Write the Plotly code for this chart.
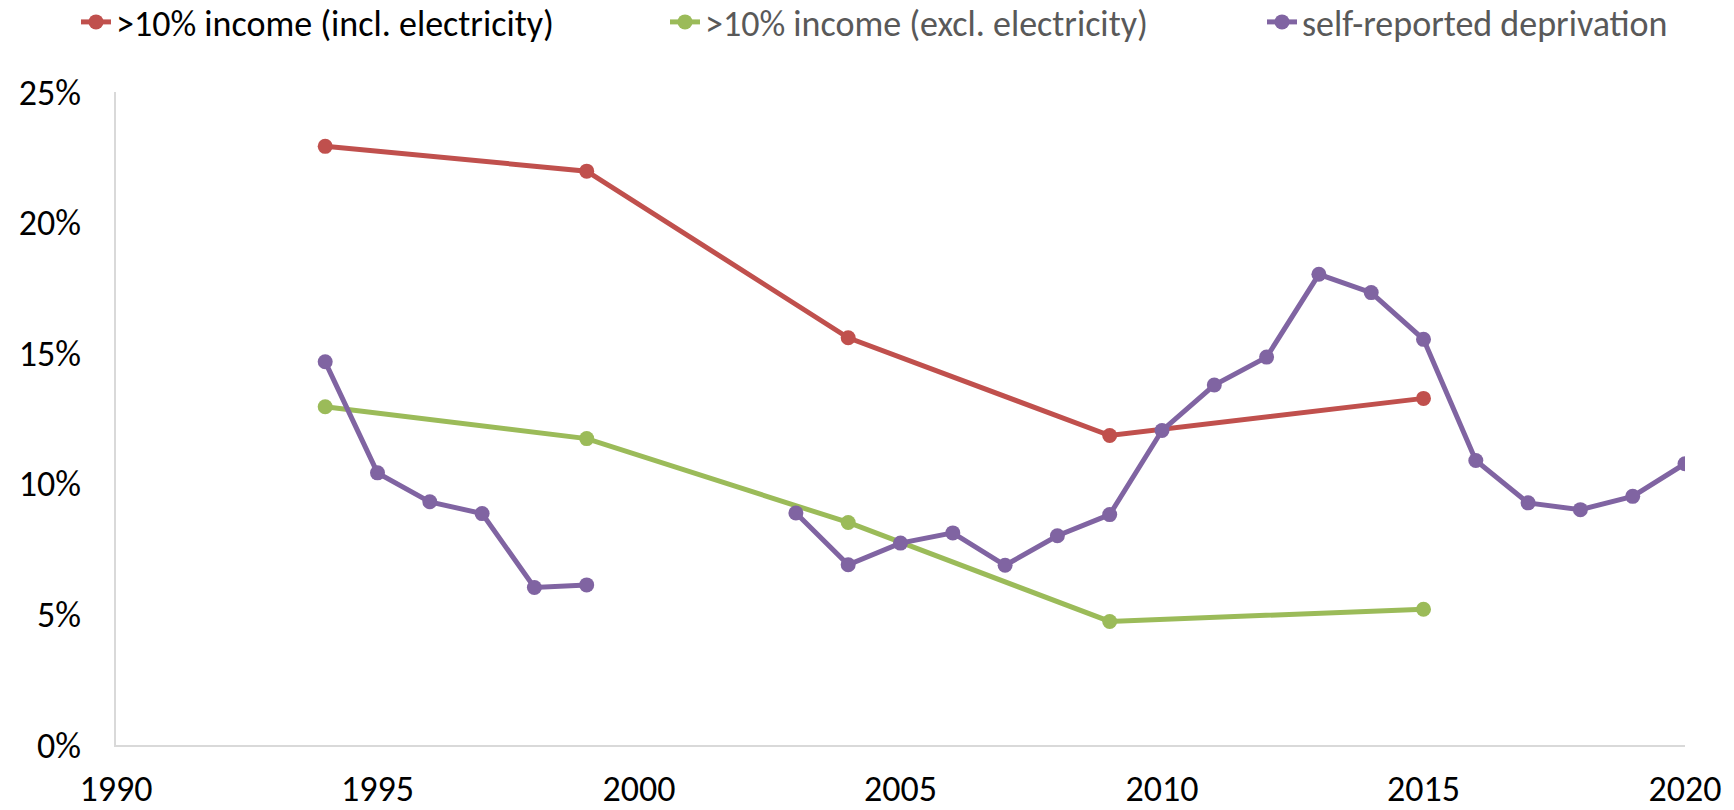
import plotly.graph_objects as go

# Share of households, by survey year
years_income = [1994, 1999, 2004, 2009, 2015]
incl_electricity = [0.2292, 0.2197, 0.1559, 0.1185, 0.1327]
excl_electricity = [0.1295, 0.1173, 0.0852, 0.0473, 0.0520]

years_deprivation = list(range(1994, 2021))
self_reported = [0.1467, 0.1042, 0.0931, 0.0886, 0.0603, 0.0613,
                 None, None, None,
                 0.0888, 0.0690, 0.0773, 0.0812, 0.0688, 0.0801, 0.0882,
                 0.1204, 0.1378, 0.1485, 0.1802, 0.1732, 0.1553,
                 0.1089, 0.0927, 0.0901, 0.0952, 0.1077]

# name, x, y, colour, legend slot, legend left edge (px), legend text colour
series = [
    (">10% income (incl. electricity)", years_income, incl_electricity,
     "#C0504D", "legend", 76, "#000000"),
    (">10% income (excl. electricity)", years_income, excl_electricity,
     "#9BBB59", "legend2", 665, "#595959"),
    ("self-reported deprivation", years_deprivation, self_reported,
     "#8064A2", "legend3", 1262, "#595959"),
]

FONT = "Carlito, Lato, sans-serif"
W, H = 1734, 810

fig = go.Figure()
legends = {}
for name, xs, ys, color, leg, left, txt_color in series:
    fig.add_trace(go.Scatter(
        x=xs, y=ys, name=name, mode="lines+markers",
        connectgaps=False, legend=leg,
        line=dict(color=color, width=5),
        marker=dict(color=color, size=15),
    ))
    legends[leg] = dict(
        orientation="h", xref="container", yref="container",
        x=left / W, xanchor="left", y=1 - 22 / H, yanchor="middle",
        font=dict(family=FONT, size=36, color=txt_color),
        bgcolor="rgba(0,0,0,0)", borderwidth=0,
    )

fig.update_layout(
    width=W, height=H,
    margin=dict(l=116, r=49, t=92, b=65),
    paper_bgcolor="white", plot_bgcolor="white",
    font=dict(family=FONT, size=36, color="#000000"),
    showlegend=True,
    **legends,
    xaxis=dict(
        range=[1990, 2020], dtick=5, tick0=1990,
        showgrid=False, zeroline=False, automargin=False,
        showline=True, linecolor="#D9D9D9", linewidth=1.5,
        ticks="", ticklabelstandoff=11,
        tickfont=dict(family=FONT, size=36, color="#000000"),
    ),
    yaxis=dict(
        range=[0, 0.25], dtick=0.05, tickformat=".0%",
        showgrid=False, zeroline=False, automargin=False,
        showline=True, linecolor="#D9D9D9", linewidth=1.5,
        ticks="", ticklabelstandoff=26,
        tickfont=dict(family=FONT, size=36, color="#000000"),
    ),
)

fig.write_html("out.html")
